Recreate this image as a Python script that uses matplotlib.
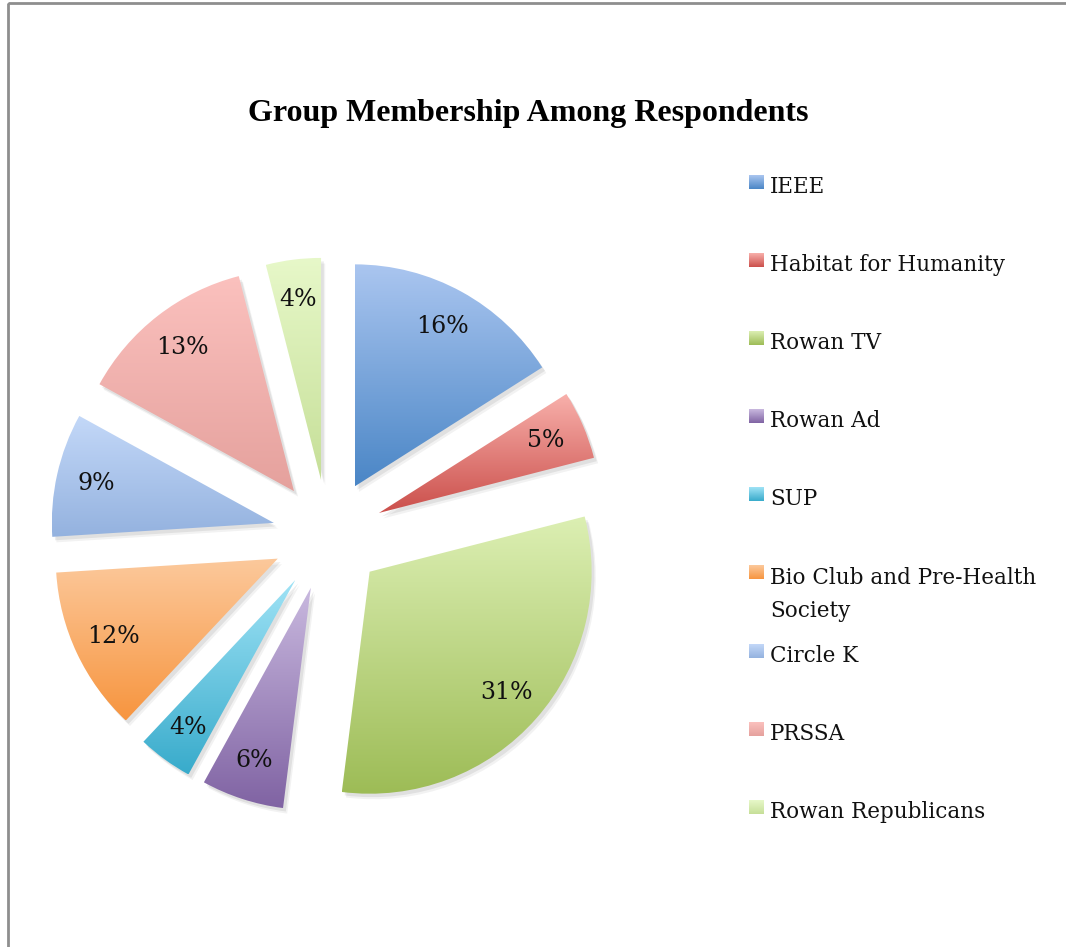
import matplotlib
matplotlib.use("Agg")
import matplotlib.pyplot as plt
import matplotlib.patheffects as pe
from matplotlib.colors import to_rgb
from matplotlib.patches import Rectangle
import numpy as np

# data
groups = ["IEEE", "Habitat for Humanity", "Rowan TV", "Rowan Ad", "SUP",
          "Bio Club and Pre-Health\nSociety", "Circle K", "PRSSA",
          "Rowan Republicans"]
shares = [16, 5, 31, 6, 4, 12, 9, 13, 4]

# gradient colours per slice (top, bottom)
top_colors = ["#abc6f0", "#f8b0ab", "#dcefb3", "#c9b9df", "#a0e3f6",
              "#fcc99c", "#c3d8f8", "#fbc1be", "#e7f8c9"]
bottom_colors = ["#4a86c6", "#cb4f4b", "#9dbc56", "#8063a3", "#38abcb",
                 "#f7953f", "#94b2df", "#e5a19d", "#c6df98"]

W, H = 1066, 947
cx, cy, R = 328, 535, 222   # pie centre / radius in pixels

fig = plt.figure(figsize=(W / 100, H / 100), dpi=100)
fig.patch.set_facecolor("white")

# pie axes: one data unit == one pie radius
ax = fig.add_axes([0, 0, 1, 1])
wedges, texts, autotexts = ax.pie(
    shares, radius=1, startangle=90, counterclock=False,
    explode=[0.25] * len(shares), autopct="%1.0f%%", pctdistance=0.82,
    wedgeprops=dict(linewidth=0),
    textprops=dict(family="DejaVu Serif", fontsize=17, color="#111111"))
ax.axis("off")


def gradient(top, bottom, n=256):
    t = np.linspace(0, 1, n)[:, None]
    a = np.array(to_rgb(top))
    b = np.array(to_rgb(bottom))
    return (a * (1 - t) + b * t)[:, None, :]


for w, c1, c2 in zip(wedges, top_colors, bottom_colors):
    w.set_facecolor("none")
    # soft-ish drop shadow, a few layers
    w.set_path_effects([pe.SimplePatchShadow(offset=(3, -4), shadow_rgbFace="k", alpha=0.05),
                        pe.SimplePatchShadow(offset=(2, -2.5), shadow_rgbFace="k", alpha=0.07),
                        pe.Normal()])
    ext = w.get_path().get_extents()
    im = ax.imshow(gradient(c1, c2), extent=(ext.x0, ext.x1, ext.y0, ext.y1),
                   origin="upper", aspect="auto", zorder=2, interpolation="bilinear")
    im.set_clip_path(w)
for t in autotexts:
    t.set_zorder(3)

ax.set_xlim(-cx / R, (W - cx) / R)
ax.set_ylim((cy - H) / R, cy / R)
ax.set_aspect("auto")

# overlay in pixel coordinates for title, legend and frame
ov = fig.add_axes([0, 0, 1, 1], facecolor="none")
ov.axis("off")

ov.add_patch(Rectangle((8, 3), W + 20, H + 20, fill=False, edgecolor="#8e8e8e", linewidth=2))

ov.text(528, 113, "Group Membership Among Respondents", ha="center", va="center",
        family="Liberation Serif", fontweight="bold", fontsize=23)

for i, (name, c1, c2) in enumerate(zip(groups, top_colors, bottom_colors)):
    yb = 193 + 78.1 * i
    ov.imshow(gradient(c1, c2), extent=(749, 764, yb - 4, yb - 18),
              origin="upper", aspect="auto", interpolation="bilinear")
    for k, line in enumerate(name.split("\n")):
        ov.text(770, yb + 33 * k, line, ha="left", va="baseline", family="DejaVu Serif",
                fontsize=15.5, color="#111111")

ov.set_xlim(0, W)
ov.set_ylim(H, 0)

fig.savefig("out.png", dpi=100)
